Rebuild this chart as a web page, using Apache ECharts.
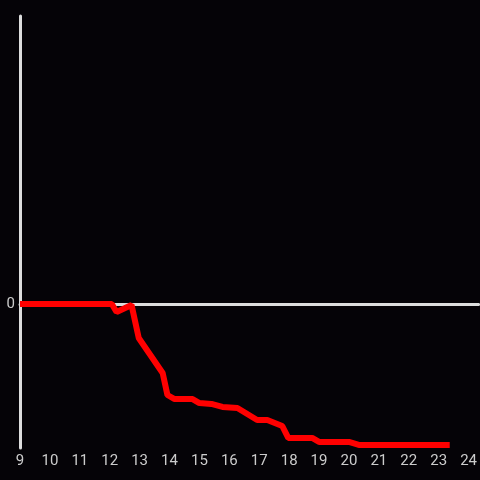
<!DOCTYPE html>
<html>
<head>
<meta charset="utf-8">
<script src="https://cdn.jsdelivr.net/npm/echarts@6/dist/echarts.min.js"></script>
<style>
  html, body { margin: 0; padding: 0; background: #050307; }
  #chart { width: 480px; height: 480px; }
</style>
</head>
<body>
<div id="chart"></div>
<script>
// x positions (hours) and values
const xs = [9, 10, 11, 12.07, 12.23, 12.73, 12.97, 13.77, 13.93, 14.17, 14.77, 15.0, 15.4, 15.77, 16.27,
  16.93, 17.27, 17.77, 17.97, 18.77, 19.0, 20.0, 20.33, 23.37];
const ys = [0, 0, 0, 0, -0.056, -0.007, -0.236, -0.479, -0.632, -0.66, -0.66, -0.688, -0.694, -0.715, -0.722,
  -0.806, -0.806, -0.847, -0.93, -0.93, -0.958, -0.958, -0.979, -0.979];

const points = xs.map((x, i) => [x, ys[i]]);

const inst = echarts.init(document.getElementById('chart'), undefined, { renderer: 'canvas' });

const labelStyle = { color: '#cccccc', fontSize: 15, fontFamily: 'Roboto' };

inst.setOption({
  animation: false,
  backgroundColor: '#050307',
  grid: { left: 20, right: 0, top: 16, bottom: 32, containLabel: false },
  xAxis: [
    {
      type: 'value',
      min: 9,
      max: 24.333,
      interval: 1,
      axisLine: { show: true, onZero: true, lineStyle: { color: '#dddddd', width: 3 } },
      axisTick: { show: false },
      axisLabel: { show: false },
      splitLine: { show: false },
    },
    {
      type: 'value',
      position: 'bottom',
      min: 9,
      max: 24.333,
      interval: 1,
      axisLine: { show: false },
      axisTick: { show: false },
      axisLabel: {
        ...labelStyle,
        margin: 6,
        showMaxLabel: false,
        formatter: (v) => (Number.isInteger(v) ? String(v) : ''),
      },
      splitLine: { show: false },
    },
  ],
  yAxis: {
    type: 'value',
    min: -1,
    max: 2,
    interval: 1,
    axisLine: { show: true, lineStyle: { color: '#dddddd', width: 3 } },
    axisTick: { show: false },
    axisLabel: { ...labelStyle, margin: 5, padding: [5, 0, 0, 0], formatter: (v) => (v === 0 ? '0' : '') },
    splitLine: { show: false },
  },
  series: [
    {
      type: 'line',
      xAxisIndex: 0,
      data: points,
      showSymbol: false,
      smooth: false,
      lineStyle: { width: 6, color: '#ff0000' },
    },
  ],
});
</script>
</body>
</html>
